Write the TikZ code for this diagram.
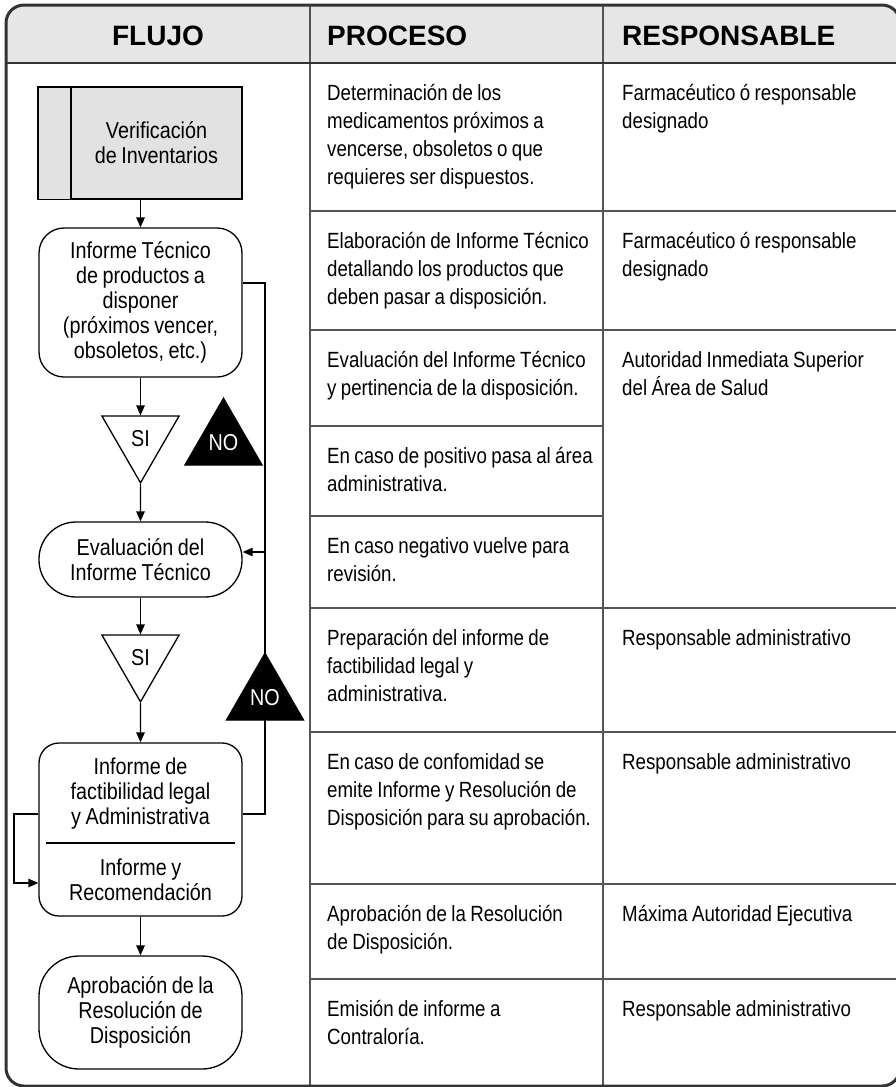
\documentclass[tikz,border=0pt]{standalone}
\usepackage{fontspec}
\setmainfont{Liberation Sans}
\newfontfamily\narrowfam{Liberation Sans}[FakeStretch=0.85]
\newfontfamily\flowfam{Liberation Sans}[FakeStretch=0.86]
\usetikzlibrary{shapes.geometric,arrows.meta}
\definecolor{hdrgray}{HTML}{E6E6E6}
\definecolor{boxgray}{HTML}{E2E2E2}
\definecolor{rulegray}{HTML}{555555}
\definecolor{framegray}{HTML}{333333}
\newcommand\celltext{\narrowfam\fontsize{22}{28.3}\selectfont\spaceskip=4.4pt plus 1pt minus 0.5pt\relax}
\newcommand\flowtext{\flowfam\fontsize{23}{25}\selectfont\spaceskip=4.5pt plus 1pt minus 0.5pt\relax}
\newcommand\hdrtext{\bfseries\fontsize{28}{32}\selectfont}
\begin{document}
\begin{tikzpicture}[x=1pt,y=-1pt,
  flowbox/.style={draw, line width=1.3pt, font=\flowtext, align=center, inner sep=0pt, minimum width=203pt},
  tri/.style={regular polygon, regular polygon sides=3, minimum size=89pt, inner sep=0pt, draw, line width=1.3pt, font=\flowtext},
  sitri/.style={tri, shape border rotate=180, fill=white},
  notri/.style={tri, fill=black, text=white},
  arr/.style={-{Triangle[length=10pt,width=8.5pt]}, line width=1.3pt},
  conn/.style={line width=1.3pt},
  cell/.style={anchor=base west, text width=300pt, align=flush left, inner sep=0pt, font=\celltext},
  hdr/.style={anchor=base, inner sep=0pt, font=\hdrtext},
  rowline/.style={rulegray, line width=1.8pt},
  txt/.style={inner sep=0pt, font=\flowtext, align=center}]
\useasboundingbox (0,0) rectangle (896,1087);
% header background
\begin{scope}
  \clip[rounded corners=18pt] (6,5) rectangle (900,1086);
  \fill[hdrgray] (0,0) rectangle (900,63);
\end{scope}
% table rules
\draw[rowline] (310,5) -- (310,1087);
\draw[rowline] (603,5) -- (603,1087);
\draw[rowline] (310,211) -- (900,211);
\draw[rowline] (310,330) -- (900,330);
\draw[rowline] (310,426) -- (603,426);
\draw[rowline] (310,516) -- (603,516);
\draw[rowline] (310,608) -- (900,608);
\draw[rowline] (310,732) -- (900,732);
\draw[rowline] (310,884) -- (900,884);
\draw[rowline] (310,979) -- (900,979);
\draw[framegray, line width=2.2pt] (6,63) -- (900,63);
\draw[framegray, line width=3pt, rounded corners=18pt] (6,5) rectangle (900,1086);
% headers
\node[hdr] (hflujo) at (158,45) {FLUJO};
\node[hdr, anchor=base west] (hproc) at (327,45) {PROCESO};
\node[hdr, anchor=base west] (hresp) at (622,45) {RESPONSABLE};
% proceso column
\node[cell] (p1) at (327,100) {Determinación de los\\medicamentos próximos a\\vencerse, obsoletos o que\\requieres ser dispuestos.};
\node[cell] (p2) at (327,248) {Elaboración de Informe Técnico\\detallando los productos que\\deben pasar a disposición.};
\node[cell] (p3) at (327,367) {Evaluación del Informe Técnico\\y pertinencia de la disposición.};
\node[cell] (p4) at (327,463) {En caso de positivo pasa al área\\administrativa.};
\node[cell] (p5) at (327,553) {En caso negativo vuelve para\\revisión.};
\node[cell] (p6) at (327,645) {Preparación del informe de\\factibilidad legal y\\administrativa.};
\node[cell] (p7) at (327,769) {En caso de confomidad se\\emite Informe y Resolución de\\Disposición para su aprobación.};
\node[cell] (p8) at (327,921) {Aprobación de la Resolución\\de Disposición.};
\node[cell] (p9) at (327,1016) {Emisión de informe a\\Contraloría.};
% responsable column
\node[cell] (r1) at (622,100) {Farmacéutico ó responsable\\designado};
\node[cell] (r2) at (622,248) {Farmacéutico ó responsable\\designado};
\node[cell] (r3) at (622,367) {Autoridad Inmediata Superior\\del Área de Salud};
\node[cell] (r6) at (622,645) {Responsable administrativo};
\node[cell] (r7) at (622,769) {Responsable administrativo};
\node[cell] (r8) at (622,921) {Máxima Autoridad Ejecutiva};
\node[cell] (r9) at (622,1016) {Responsable administrativo};
% flow
\node[flowbox, fill=boxgray, minimum width=171pt, minimum height=112pt] (box1) at (156.5,143) {Verificación\\de Inventarios};
\draw[conn, fill=boxgray] (38,87) rectangle (box1.south west);
\node[flowbox, rounded corners=25pt, minimum height=149pt] (box2) at (140.5,302.5) {Informe Técnico\\de productos a\\disponer\\(próximos vencer,\\obsoletos, etc.)};
\node[sitri] (si1) at (140.5,438.3) {SI};
\node[notri] (no1) at (223.5,442.8) {NO};
\node[flowbox, rounded corners=37pt, minimum height=75pt] (box3) at (140.5,559.5) {Evaluación del\\Informe Técnico};
\node[sitri] (si2) at (140.5,657.3) {SI};
\node[flowbox, rounded corners=20pt, minimum height=173pt] (box4) at (140.5,829.5) {};
\node[txt] (b4top) at (140.5,794) {Informe de\\factibilidad legal\\y Administrativa};
\node[txt] (b4bot) at (140.5,880) {Informe y\\Recomendación};
\draw[conn] (46,843) -- (235,843);
\node[flowbox, rounded corners=40pt, minimum height=113pt] (box5) at (140.5,1012.5) {Aprobación de la\\Resolución de\\Disposición};
% connectors
\draw[arr] (box1.south -| box2.north) -- (box2.north);
\draw[arr] (box2.south) -- (si1.90);
\draw[arr] (si1.-90) -- (box3.north);
\draw[arr] (box3.south) -- (si2.90);
\draw[arr] (si2.-90) -- (box4.north);
\draw[arr] (box4.south) -- (box5.north);
\coordinate (rtop) at (265,283);
\coordinate (rbot) at (265,814);
\coordinate (rmid) at (265,552);
\coordinate (ltop) at (14,814);
\coordinate (lbot) at (14,883);
\draw[conn] (box4.east |- rbot) -- (rbot) -- (rtop) -- (box2.east |- rtop);
\draw[arr] (rmid) -- (box3.east |- rmid);
\draw[arr] (box4.west |- ltop) -- (ltop) -- (lbot) -- (box4.west |- lbot);
\node[notri] (no2) at (265,697.8) {NO};
\end{tikzpicture}
\end{document}
